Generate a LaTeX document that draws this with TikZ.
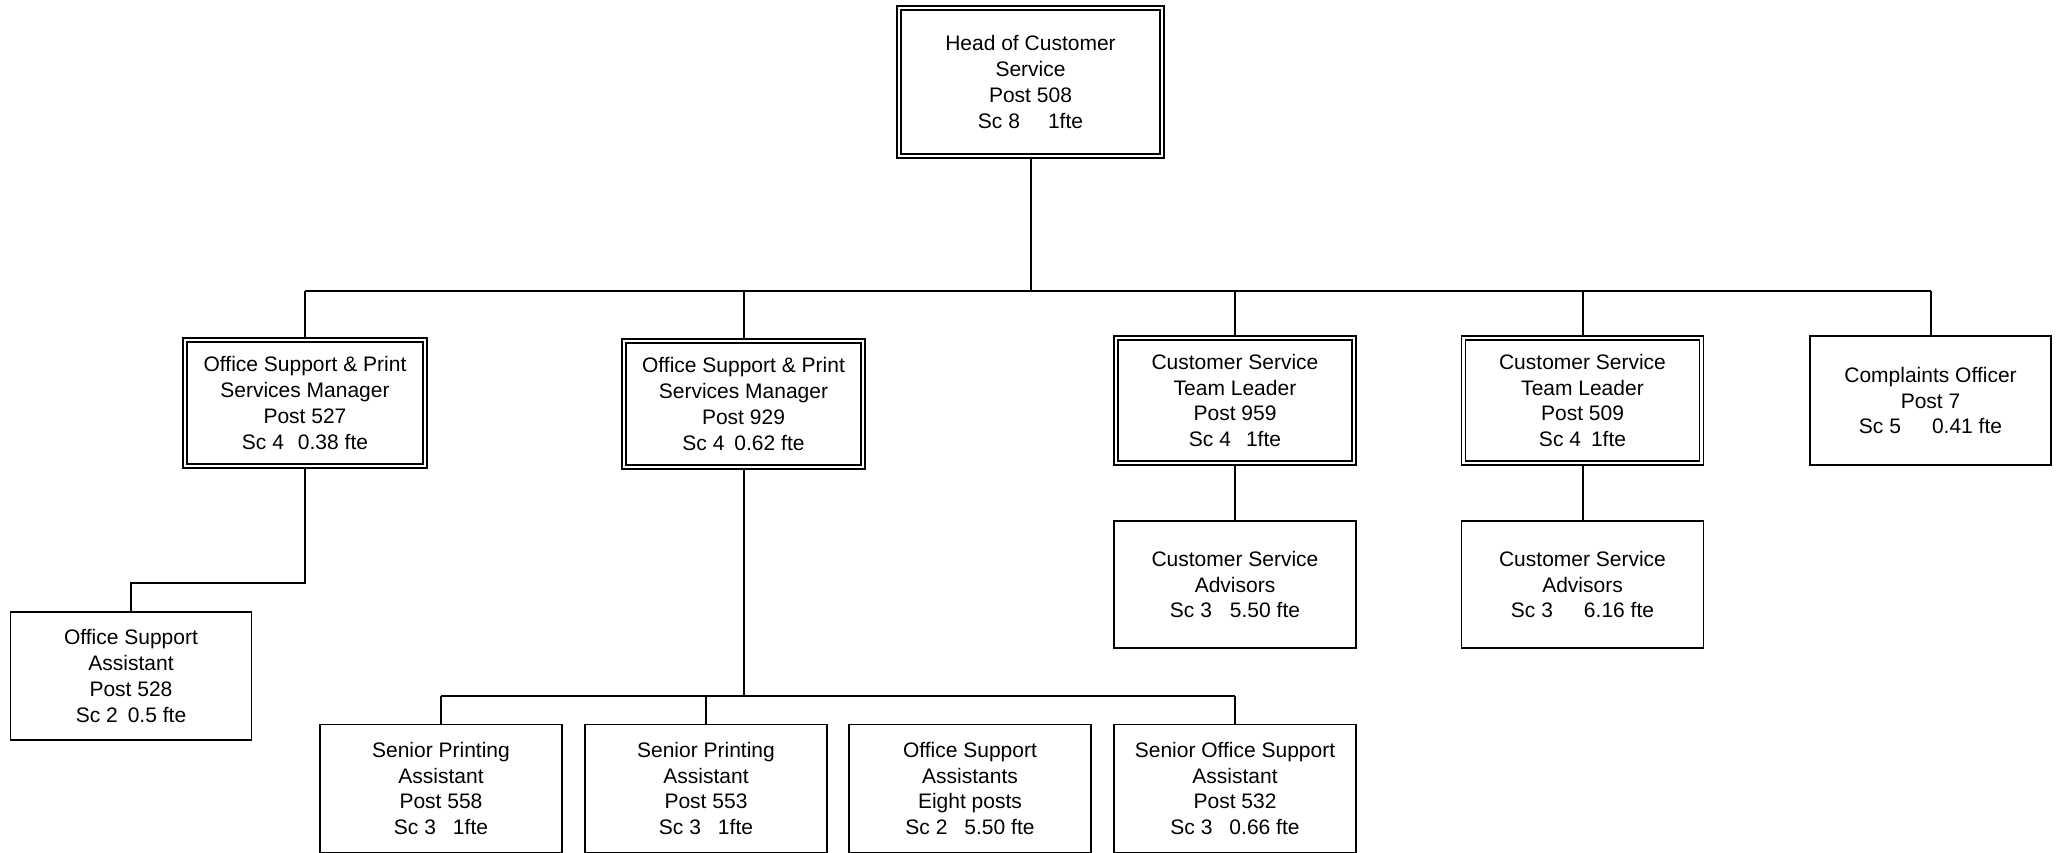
\documentclass[tikz,border=0pt]{standalone}
\usepackage{fontspec}
\setmainfont{Liberation Sans}
\newcommand\gp[1]{\hspace{#1pt}}
\begin{document}
\begin{tikzpicture}[x=1pt,y=-1pt,
  base/.style={rectangle, inner sep=0pt, align=center, font=\fontsize{21}{25.8}\selectfont},
  sbox/.style={base, draw, line width=1.7pt, minimum width=241pt, minimum height=128pt},
  dbox/.style={base, draw, line width=1.4pt, double, double distance=2.5pt},
  conn/.style={line width=2pt}]
\useasboundingbox (0,0) rectangle (2058,853);
% top
\node[dbox, minimum width=263pt, minimum height=148pt] (head) at (1030.5,82) {Head of Customer\\Service\\Post 508\\Sc 8\gp{28}1fte};
% level 2
\node[dbox, minimum width=240pt, minimum height=126pt] (m527) at (305,403) {Office Support \& Print\\Services Manager\\Post 527\\Sc 4\gp{14}0.38 fte};
\node[dbox, minimum width=239pt, minimum height=126pt] (m929) at (743.5,404) {Office Support \& Print\\Services Manager\\Post 929\\Sc 4\gp{10}0.62 fte};
\node[dbox, minimum width=238pt, minimum height=125pt] (t959) at (1235,400.5) {Customer Service\\Team Leader\\Post 959\\Sc 4\gp{15}1fte};
\node[dbox, minimum width=238pt, minimum height=125pt] (t509) at (1582.5,400.5) {Customer Service\\Team Leader\\Post 509\\Sc 4\gp{10}1fte};
\node[sbox, minimum height=129pt] (comp) at (1930.5,400.5) {Complaints Officer\\Post 7\\Sc 5\gp{31}0.41 fte};
% level 3
\node[sbox, minimum width=242pt, minimum height=127pt] (a959) at (1235,584.5) {Customer Service\\Advisors\\Sc 3\gp{18}5.50 fte};
\node[sbox, minimum width=242pt, minimum height=127pt] (a509) at (1582.5,584.5) {Customer Service\\Advisors\\Sc 3\gp{31}6.16 fte};
\node[sbox] (osa) at (131,676) {Office Support\\Assistant\\Post 528\\Sc 2\gp{10}0.5 fte};
% bottom row
\node[sbox, minimum width=242pt] (p558) at (441,788.5) {Senior Printing\\Assistant\\Post 558\\Sc 3\gp{17}1fte};
\node[sbox, minimum width=242pt] (p553) at (706,788.5) {Senior Printing\\Assistant\\Post 553\\Sc 3\gp{17}1fte};
\node[sbox, minimum width=242pt] (osas) at (970,788.5) {Office Support\\Assistants\\Eight posts\\Sc 2\gp{17}5.50 fte};
\node[sbox, minimum width=242pt] (s532) at (1235,788.5) {Senior Office Support\\Assistant\\Post 532\\Sc 3\gp{17}0.66 fte};
% bus coordinates
\coordinate (bus1) at (0,291);
\coordinate (bus2) at (0,696);
\coordinate (elb) at (0,583);
% connectors
\draw[conn] (head.south) -- (head.south |- bus1);
\draw[conn] (m527.north |- bus1) -- (comp.north |- bus1);
\foreach \n in {m527,m929,t959,t509,comp} \draw[conn] (\n.north) -- (\n.north |- bus1);
\draw[conn] (m527.south) -- (m527.south |- elb) -| (osa.north);
\draw[conn] (m929.south) -- (m929.south |- bus2);
\draw[conn] (p558.north |- bus2) -- (s532.north |- bus2);
\foreach \n in {p558,p553,s532} \draw[conn] (\n.north) -- (\n.north |- bus2);
\draw[conn] (t959.south) -- (a959.north);
\draw[conn] (t509.south) -- (a509.north);
\end{tikzpicture}
\end{document}
